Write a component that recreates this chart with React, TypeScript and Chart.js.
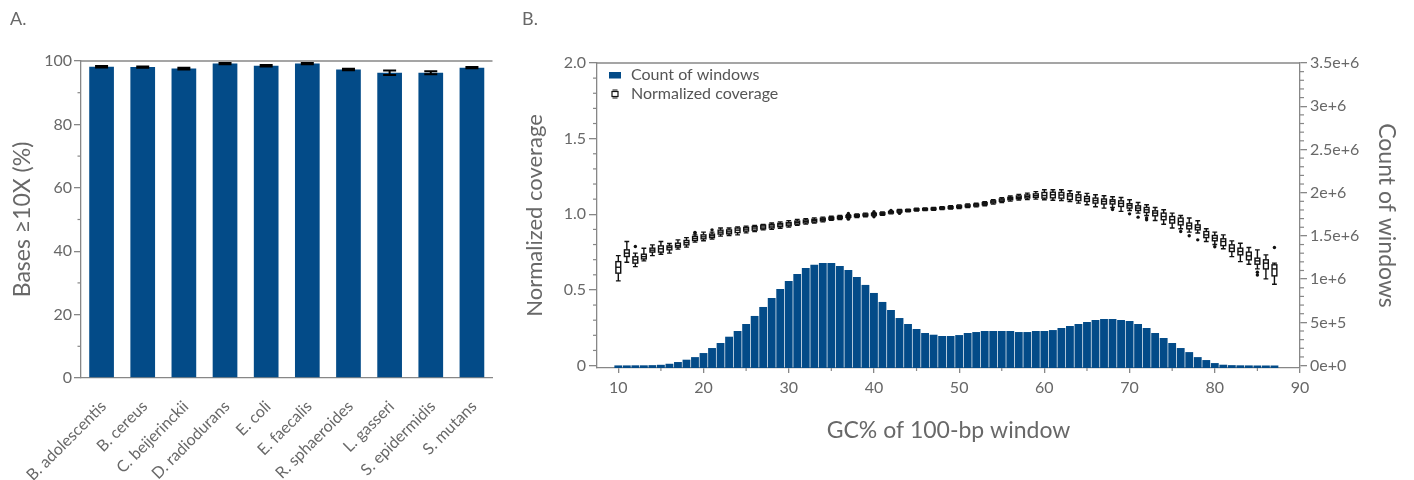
import React, { useEffect, useRef } from 'react';
import { Chart, registerables } from 'chart.js';

Chart.register(...registerables);

const FONT_FAMILY = 'Lato, "Open Sans", "DejaVu Sans", sans-serif';
const TEXT_COLOR = '#686868';
const LEGEND_COLOR = '#555555';
const AXIS_COLOR = '#878787';
const BAR_COLOR = '#034b88';

// ---------- Panel A data ----------
const speciesNames = [
  'B. adolescentis', 'B. cereus', 'C. beijerinckii', 'D. radiodurans', 'E. coli',
  'E. faecalis', 'R. sphaeroides', 'L. gasseri', 'S. epidermidis', 'S. mutans',
];
const basesAbove10X = [98.2, 98.1, 97.6, 99.2, 98.5, 99.2, 97.3, 96.3, 96.3, 97.9];
const basesAbove10XErr = [0.25, 0.2, 0.25, 0.2, 0.2, 0.2, 0.25, 0.7, 0.45, 0.2];
const panelAYTicks = [0, 20, 40, 60, 80, 100];
const panelAYMinorTicks = [10, 30, 50, 70, 90];

// ---------- Panel B data ----------
const gcBins = [
  10, 11, 12, 13, 14, 15, 16, 17, 18, 19, 20, 21, 22, 23, 24, 25, 26, 27, 28, 29,
  30, 31, 32, 33, 34, 35, 36, 37, 38, 39, 40, 41, 42, 43, 44, 45, 46, 47, 48, 49,
  50, 51, 52, 53, 54, 55, 56, 57, 58, 59, 60, 61, 62, 63, 64, 65, 66, 67, 68, 69,
  70, 71, 72, 73, 74, 75, 76, 77, 78, 79, 80, 81, 82, 83, 84, 85, 86, 87,
];
const windowCounts = [
  2000, 2000, 3000, 3000, 5000, 9000, 21000, 41000, 68000, 98000,
  145000, 203000, 261000, 334000, 400000, 481000, 574000, 678000, 782000, 886000,
  979000, 1060000, 1130000, 1165000, 1188000, 1188000, 1153000, 1107000, 1025000, 933000,
  840000, 736000, 643000, 550000, 481000, 423000, 377000, 357000, 342000, 342000,
  353000, 377000, 388000, 400000, 400000, 400000, 400000, 388000, 388000, 400000,
  400000, 411000, 435000, 458000, 481000, 504000, 527000, 539000, 539000, 527000,
  516000, 481000, 435000, 377000, 319000, 261000, 203000, 156000, 98000, 64000,
  29000, 10000, 5000, 3000, 2000, 1000, 1000, 1000,
];
const coverageMedian = [
  0.650, 0.743, 0.699, 0.720, 0.763, 0.772, 0.780, 0.793, 0.813, 0.840,
  0.851, 0.858, 0.882, 0.884, 0.895, 0.902, 0.909, 0.916, 0.922, 0.930,
  0.936, 0.946, 0.953, 0.959, 0.966, 0.973, 0.979, 0.986, 0.991, 0.996,
  1.000, 1.004, 1.013, 1.021, 1.025, 1.031, 1.033, 1.036, 1.041, 1.045,
  1.050, 1.056, 1.061, 1.070, 1.082, 1.094, 1.104, 1.112, 1.118, 1.123,
  1.124, 1.129, 1.127, 1.121, 1.111, 1.103, 1.091, 1.085, 1.085, 1.072,
  1.058, 1.041, 1.030, 1.008, 0.985, 0.964, 0.952, 0.924, 0.913, 0.864,
  0.842, 0.820, 0.776, 0.754, 0.725, 0.692, 0.677, 0.639,
];
const coverageQ1 = [
  0.611, 0.721, 0.677, 0.705, 0.750, 0.750, 0.765, 0.783, 0.798, 0.827,
  0.838, 0.846, 0.869, 0.871, 0.879, 0.889, 0.895, 0.904, 0.910, 0.918,
  0.924, 0.935, 0.943, 0.949, 0.957, 0.966, 0.972, 0.980, 0.985, 0.990,
  0.994, 0.998, 1.008, 1.015, 1.020, 1.026, 1.028, 1.031, 1.036, 1.039,
  1.044, 1.050, 1.055, 1.063, 1.075, 1.086, 1.096, 1.103, 1.108, 1.112,
  1.107, 1.109, 1.107, 1.098, 1.091, 1.085, 1.074, 1.068, 1.068, 1.052,
  1.041, 1.025, 1.012, 0.990, 0.964, 0.942, 0.930, 0.904, 0.897, 0.846,
  0.825, 0.793, 0.754, 0.732, 0.699, 0.670, 0.639, 0.593,
];
const coverageQ3 = [
  0.687, 0.765, 0.719, 0.736, 0.776, 0.791, 0.791, 0.809, 0.827, 0.853,
  0.864, 0.869, 0.895, 0.897, 0.909, 0.913, 0.919, 0.928, 0.933, 0.940,
  0.946, 0.955, 0.962, 0.967, 0.974, 0.980, 0.986, 0.992, 0.997, 1.002,
  1.006, 1.010, 1.018, 1.027, 1.030, 1.036, 1.038, 1.041, 1.046, 1.051,
  1.056, 1.062, 1.067, 1.077, 1.089, 1.101, 1.112, 1.121, 1.128, 1.135,
  1.144, 1.146, 1.144, 1.136, 1.129, 1.118, 1.107, 1.101, 1.096, 1.089,
  1.070, 1.056, 1.045, 1.023, 1.008, 0.985, 0.975, 0.942, 0.930, 0.886,
  0.860, 0.838, 0.798, 0.776, 0.750, 0.710, 0.699, 0.666,
];
const coverageLow = [
  0.560, 0.683, 0.654, 0.692, 0.727, 0.736, 0.743, 0.770, 0.783, 0.816,
  0.825, 0.836, 0.856, 0.860, 0.864, 0.877, 0.886, 0.897, 0.900, 0.908,
  0.915, 0.928, 0.935, 0.942, 0.950, 0.960, 0.966, 0.975, 0.979, 0.984,
  0.989, 0.993, 1.003, 1.010, 1.016, 1.021, 1.024, 1.027, 1.031, 1.034,
  1.038, 1.044, 1.049, 1.056, 1.067, 1.078, 1.087, 1.094, 1.098, 1.100,
  1.096, 1.093, 1.091, 1.085, 1.074, 1.063, 1.050, 1.041, 1.045, 1.019,
  1.025, 1.008, 0.992, 0.959, 0.934, 0.909, 0.904, 0.882, 0.876, 0.820,
  0.800, 0.772, 0.720, 0.687, 0.670, 0.639, 0.573, 0.538,
];
const coverageHigh = [
  0.727, 0.820, 0.743, 0.776, 0.798, 0.820, 0.807, 0.831, 0.846, 0.864,
  0.882, 0.882, 0.909, 0.909, 0.917, 0.922, 0.926, 0.933, 0.942, 0.950,
  0.958, 0.966, 0.971, 0.976, 0.981, 0.987, 0.992, 0.998, 1.003, 1.008,
  1.011, 1.015, 1.022, 1.032, 1.034, 1.040, 1.042, 1.045, 1.050, 1.056,
  1.061, 1.068, 1.073, 1.083, 1.096, 1.109, 1.121, 1.131, 1.140, 1.150,
  1.162, 1.162, 1.162, 1.156, 1.147, 1.138, 1.129, 1.123, 1.116, 1.111,
  1.096, 1.078, 1.063, 1.045, 1.030, 1.008, 0.992, 0.975, 0.957, 0.904,
  0.882, 0.864, 0.824, 0.809, 0.780, 0.765, 0.732, 0.677,
];
const coverageOutliers: number[][] = [
  [], [], [0.787], [], [], [], [], [], [], [0.876, 0.880],
  [], [0.897], [], [], [], [], [], [], [], [],
  [], [], [], [], [], [], [], [0.968, 1.005], [], [],
  [0.983, 1.017], [], [1.026], [1.006], [], [], [], [], [], [],
  [], [], [], [], [], [], [], [], [], [],
  [], [], [], [], [], [], [], [], [1.032], [],
  [1.003], [0.981], [0.975, 0.964], [], [], [], [0.886], [0.858], [0.831], [],
  [0.785], [], [], [], [], [0.617, 0.599], [], [0.780],
];

const leftTicksB = [0, 0.5, 1.0, 1.5, 2.0];
const leftTickLabelsB = ['0', '0.5', '1.0', '1.5', '2.0'];
const leftMinorTicksB = [
  0.1, 0.2, 0.3, 0.4, 0.6, 0.7, 0.8, 0.9, 1.1, 1.2, 1.3, 1.4, 1.6, 1.7, 1.8, 1.9,
];
const rightTicksB = [0, 500000, 1000000, 1500000, 2000000, 2500000, 3000000, 3500000];
const rightTickLabelsB = ['0e+0', '5e+5', '1e+6', '1.5e+6', '2e+6', '2.5e+6', '3e+6', '3.5e+6'];
const rightMinorTicksB = [
  100000, 200000, 300000, 400000, 600000, 700000, 800000, 900000,
  1100000, 1200000, 1300000, 1400000, 1600000, 1700000, 1800000, 1900000,
  2100000, 2200000, 2300000, 2400000, 2600000, 2700000, 2800000, 2900000,
  3100000, 3200000, 3300000, 3400000,
];
const xTicksB = [10, 20, 30, 40, 50, 60, 70, 80, 90];
const xMinorTicksB = [15, 25, 35, 45, 55, 65, 75, 85];

const LEFT_MIN_B = -0.016;
const LEFT_MAX_B = 2.0;
const RIGHT_MIN_B = -28000;
const RIGHT_MAX_B = 3500000;
const X_MIN_B = 7.5;
const X_MAX_B = 90;

Chart.defaults.font.family = FONT_FAMILY;

type MinorSpec = { scale: string; values: number[]; len: number };

function makeMinorTickPlugin(specs: MinorSpec[]) {
  return {
    id: 'minorTicks',
    afterDraw(chart: any) {
      const ctx = chart.ctx;
      ctx.save();
      ctx.strokeStyle = AXIS_COLOR;
      ctx.lineWidth = 1.2;
      for (const spec of specs) {
        const s = chart.scales[spec.scale];
        if (!s) continue;
        for (const v of spec.values) {
          const p = s.getPixelForValue(v);
          ctx.beginPath();
          if (s.position === 'left') {
            ctx.moveTo(s.right, p);
            ctx.lineTo(s.right - spec.len, p);
          } else if (s.position === 'right') {
            ctx.moveTo(s.left, p);
            ctx.lineTo(s.left + spec.len, p);
          } else {
            ctx.moveTo(p, s.top);
            ctx.lineTo(p, s.top + spec.len);
          }
          ctx.stroke();
        }
      }
      ctx.restore();
    },
  };
}

const topBorderPlugin = {
  id: 'topBorder',
  afterDraw(chart: any) {
    const { ctx, chartArea } = chart;
    ctx.save();
    ctx.strokeStyle = AXIS_COLOR;
    ctx.lineWidth = 1.3;
    ctx.beginPath();
    ctx.moveTo(chartArea.left, chartArea.top);
    ctx.lineTo(chartArea.right, chartArea.top);
    ctx.stroke();
    ctx.restore();
  },
};

const errorBarPlugin = {
  id: 'errorBars',
  afterDatasetsDraw(chart: any) {
    const ctx = chart.ctx;
    const meta = chart.getDatasetMeta(0);
    const y = chart.scales.y;
    ctx.save();
    ctx.strokeStyle = '#000';
    ctx.lineWidth = 2;
    meta.data.forEach((bar: any, i: number) => {
      const v = basesAbove10X[i];
      const e = basesAbove10XErr[i];
      const yTop = y.getPixelForValue(v + e);
      const yBot = y.getPixelForValue(v - e);
      const cap = 6.5;
      ctx.beginPath();
      ctx.moveTo(bar.x, yTop);
      ctx.lineTo(bar.x, yBot);
      ctx.moveTo(bar.x - cap, yTop);
      ctx.lineTo(bar.x + cap, yTop);
      ctx.moveTo(bar.x - cap, yBot);
      ctx.lineTo(bar.x + cap, yBot);
      ctx.stroke();
    });
    ctx.restore();
  },
};

const boxPlotPlugin = {
  id: 'boxPlots',
  afterDatasetsDraw(chart: any) {
    const ctx = chart.ctx;
    const xs = chart.scales.x;
    const ys = chart.scales.y;
    ctx.save();
    ctx.strokeStyle = '#111';
    ctx.lineWidth = 1.4;
    const half = 2.4;
    gcBins.forEach((g, i) => {
      const px = xs.getPixelForValue(g);
      const yHi = ys.getPixelForValue(coverageHigh[i]);
      const yQ3 = ys.getPixelForValue(coverageQ3[i]);
      const yMed = ys.getPixelForValue(coverageMedian[i]);
      const yQ1 = ys.getPixelForValue(coverageQ1[i]);
      const yLo = ys.getPixelForValue(coverageLow[i]);
      ctx.beginPath();
      ctx.moveTo(px, yHi);
      ctx.lineTo(px, yQ3);
      ctx.moveTo(px, yQ1);
      ctx.lineTo(px, yLo);
      ctx.moveTo(px - half, yHi);
      ctx.lineTo(px + half, yHi);
      ctx.moveTo(px - half, yLo);
      ctx.lineTo(px + half, yLo);
      ctx.stroke();
      ctx.fillStyle = '#fff';
      ctx.fillRect(px - half, yQ3, half * 2, yQ1 - yQ3);
      ctx.strokeRect(px - half, yQ3, half * 2, yQ1 - yQ3);
      ctx.beginPath();
      ctx.moveTo(px - half, yMed);
      ctx.lineTo(px + half, yMed);
      ctx.stroke();
      ctx.fillStyle = '#111';
      for (const o of coverageOutliers[i]) {
        const oy = ys.getPixelForValue(o);
        ctx.beginPath();
        ctx.arc(px, oy, 1.7, 0, Math.PI * 2);
        ctx.fill();
      }
    });
    ctx.restore();
  },
};

const legendBPlugin = {
  id: 'legendB',
  afterDraw(chart: any) {
    const { ctx, chartArea } = chart;
    const x0 = chartArea.left;
    const y0 = chartArea.top;
    ctx.save();
    ctx.fillStyle = BAR_COLOR;
    ctx.fillRect(x0 + 12, y0 + 9, 12, 6.5);
    ctx.strokeStyle = '#111';
    ctx.lineWidth = 1.2;
    const cx = x0 + 18;
    const cy = y0 + 31;
    ctx.beginPath();
    ctx.moveTo(cx - 2.5, cy - 4);
    ctx.lineTo(cx + 2.5, cy - 4);
    ctx.moveTo(cx - 2.5, cy + 4);
    ctx.lineTo(cx + 2.5, cy + 4);
    ctx.stroke();
    ctx.fillStyle = '#fff';
    ctx.fillRect(cx - 3, cy - 2.5, 6, 5);
    ctx.strokeRect(cx - 3, cy - 2.5, 6, 5);
    ctx.fillStyle = LEGEND_COLOR;
    ctx.font = `16px ${FONT_FAMILY}`;
    ctx.textBaseline = 'middle';
    ctx.textAlign = 'left';
    ctx.fillText('Count of windows', x0 + 34, y0 + 12);
    ctx.fillText('Normalized coverage', x0 + 34, y0 + 31);
    ctx.restore();
  },
};

function PanelA() {
  const ref = useRef<HTMLCanvasElement>(null);
  useEffect(() => {
    const chart = new Chart(ref.current as HTMLCanvasElement, {
      type: 'bar',
      data: {
        labels: speciesNames,
        datasets: [
          {
            data: basesAbove10X,
            backgroundColor: BAR_COLOR,
            barPercentage: 0.6,
            categoryPercentage: 1,
          },
        ],
      },
      options: {
        animation: false,
        responsive: true,
        maintainAspectRatio: false,
        layout: { padding: { top: 61, right: 10, left: 0, bottom: 0 } },
        plugins: { legend: { display: false }, tooltip: { enabled: false } },
        scales: {
          x: {
            grid: { display: false, drawTicks: false },
            border: { display: true, color: AXIS_COLOR, width: 1.3 },
            ticks: {
              color: TEXT_COLOR,
              font: { size: 16 },
              maxRotation: 45,
              minRotation: 45,
              padding: 19,
              labelOffset: 2,
              autoSkip: false,
            },
            afterFit: (s: any) => {
              s.height = 102;
            },
          },
          y: {
            min: 0,
            max: 100,
            afterBuildTicks: (s: any) => {
              s.ticks = panelAYTicks.map((v) => ({ value: v }));
            },
            grid: {
              drawOnChartArea: false,
              drawTicks: true,
              tickLength: 7,
              color: AXIS_COLOR,
              lineWidth: 1.3,
            },
            border: { display: true, color: AXIS_COLOR, width: 1.3 },
            ticks: { color: TEXT_COLOR, font: { size: 16 }, padding: 2 },
            title: {
              display: true,
              text: 'Bases ≥10X (%)',
              color: TEXT_COLOR,
              font: { size: 23 },
              padding: { top: 9, bottom: 0 },
            },
            afterFit: (s: any) => {
              s.width = 81;
            },
          },
        },
      },
      plugins: [
        topBorderPlugin,
        errorBarPlugin,
        makeMinorTickPlugin([{ scale: 'y', values: panelAYMinorTicks, len: 3.5 }]),
      ],
    });
    return () => chart.destroy();
  }, []);
  return (
    <div style={{ position: 'absolute', left: 0, top: 0, width: 505, height: 480 }}>
      <canvas ref={ref} />
    </div>
  );
}

function PanelB() {
  const ref = useRef<HTMLCanvasElement>(null);
  useEffect(() => {
    const chart = new Chart(ref.current as HTMLCanvasElement, {
      type: 'bar',
      data: {
        datasets: [
          {
            label: 'Count of windows',
            data: gcBins.map((g, i) => ({ x: g, y: windowCounts[i] })),
            backgroundColor: BAR_COLOR,
            barPercentage: 0.92,
            categoryPercentage: 1,
            base: RIGHT_MIN_B,
            xAxisID: 'x',
            yAxisID: 'y2',
          } as any,
        ],
      },
      options: {
        animation: false,
        responsive: true,
        maintainAspectRatio: false,
        layout: { padding: { top: 63, right: 0, left: 0, bottom: 0 } },
        plugins: { legend: { display: false }, tooltip: { enabled: false } },
        scales: {
          x: {
            type: 'linear',
            min: X_MIN_B,
            max: X_MAX_B,
            offset: false,
            afterBuildTicks: (s: any) => {
              s.ticks = xTicksB.map((v) => ({ value: v }));
            },
            grid: {
              offset: false,
              drawOnChartArea: false,
              drawTicks: true,
              tickLength: 5,
              color: AXIS_COLOR,
              lineWidth: 1.3,
            },
            border: { display: true, color: AXIS_COLOR, width: 1.3 },
            ticks: {
              color: TEXT_COLOR,
              font: { size: 16 },
              padding: 5,
              autoSkip: false,
              maxRotation: 0,
              callback: (v: any) => String(v),
            },
            title: {
              display: true,
              text: 'GC% of 100-bp window',
              color: TEXT_COLOR,
              font: { size: 23 },
              padding: { top: 0, bottom: 36 },
            },
            afterFit: (s: any) => {
              s.height = 112;
            },
          },
          y: {
            type: 'linear',
            position: 'left',
            min: LEFT_MIN_B,
            max: LEFT_MAX_B,
            afterBuildTicks: (s: any) => {
              s.ticks = leftTicksB.map((v) => ({ value: v }));
            },
            grid: {
              drawOnChartArea: false,
              drawTicks: true,
              tickLength: 8,
              color: AXIS_COLOR,
              lineWidth: 1.3,
            },
            border: { display: true, color: AXIS_COLOR, width: 1.3 },
            ticks: {
              color: TEXT_COLOR,
              font: { size: 16 },
              padding: 3,
              callback: (_v: any, i: number) => leftTickLabelsB[i],
            },
            title: {
              display: true,
              text: 'Normalized coverage',
              color: TEXT_COLOR,
              font: { size: 22 },
              padding: { top: 22, bottom: 0 },
            },
            afterFit: (s: any) => {
              s.width = 97;
            },
          },
          y2: {
            type: 'linear',
            position: 'right',
            min: RIGHT_MIN_B,
            max: RIGHT_MAX_B,
            afterBuildTicks: (s: any) => {
              s.ticks = rightTicksB.map((v) => ({ value: v }));
            },
            grid: {
              drawOnChartArea: false,
              drawTicks: true,
              tickLength: 7,
              color: AXIS_COLOR,
              lineWidth: 1.3,
            },
            border: { display: true, color: AXIS_COLOR, width: 1.3 },
            ticks: {
              color: TEXT_COLOR,
              font: { size: 16 },
              padding: 3,
              callback: (_v: any, i: number) => rightTickLabelsB[i],
            },
            title: {
              display: true,
              text: 'Count of windows',
              color: TEXT_COLOR,
              font: { size: 23 },
              padding: { top: 14, bottom: 0 },
            },
            afterFit: (s: any) => {
              s.width = 114;
            },
          },
        },
      },
      plugins: [
        topBorderPlugin,
        boxPlotPlugin,
        legendBPlugin,
        makeMinorTickPlugin([
          { scale: 'y', values: leftMinorTicksB, len: 4 },
          { scale: 'y2', values: rightMinorTicksB, len: 4 },
          { scale: 'x', values: xMinorTicksB, len: 3 },
        ]),
      ],
    });
    return () => chart.destroy();
  }, []);
  return (
    <div style={{ position: 'absolute', left: 500, top: 0, width: 914, height: 480 }}>
      <canvas ref={ref} />
    </div>
  );
}

export default function App() {
  const panelLabel: React.CSSProperties = {
    position: 'absolute',
    top: 7,
    fontFamily: FONT_FAMILY,
    fontSize: 18,
    color: TEXT_COLOR,
    lineHeight: '22px',
  };
  return (
    <div
      style={{
        position: 'absolute',
        left: 0,
        top: 0,
        width: 1414,
        height: 480,
        background: '#ffffff',
        overflow: 'hidden',
      }}
    >
      <PanelA />
      <PanelB />
      <div style={{ ...panelLabel, left: 10 }}>A.</div>
      <div style={{ ...panelLabel, left: 522 }}>B.</div>
    </div>
  );
}
